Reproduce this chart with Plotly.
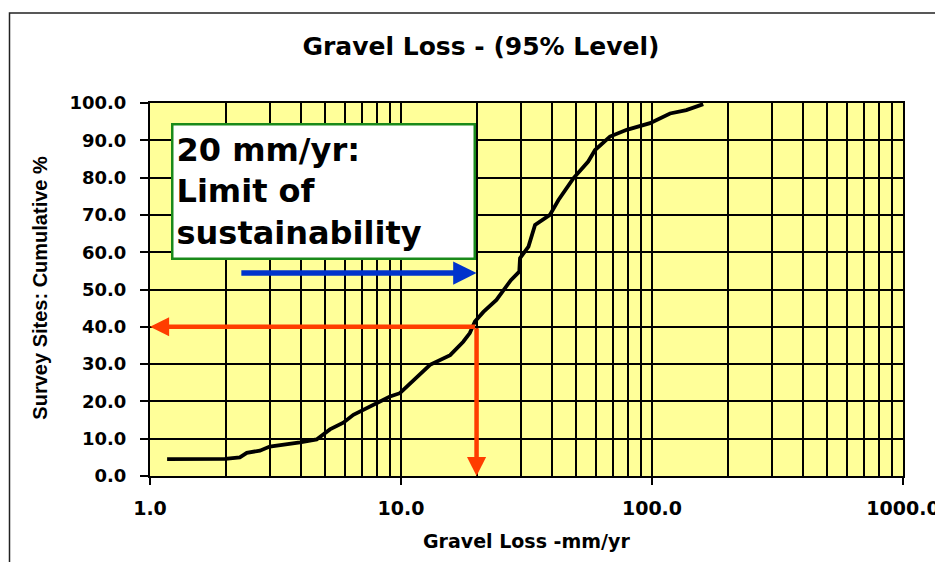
import numpy as np
import plotly.graph_objects as go

# ---------------- data ----------------
gravel_loss = [1.17, 1.99, 2.28, 2.43, 2.74, 3.0, 3.96, 4.61, 5.21, 5.89, 6.46, 7.08,
               8.0, 9.04, 9.9, 10.86, 13.05, 15.7, 17.7, 18.8, 19.7, 21.3, 24.0, 27.4,
               29.6, 29.8, 32.2, 34.2, 39.2, 42.4, 48.6, 55.7, 59.3, 68.0, 79.3, 98.2,
               118.0, 137.0, 160.0]
cumulative_pct = [4.5, 4.6, 5.0, 6.2, 6.8, 7.9, 9.0, 9.8, 12.5, 14.3, 16.4, 17.7,
                  19.7, 21.3, 22.2, 24.8, 29.8, 32.4, 36.0, 38.3, 41.4, 44.0, 47.2, 52.5,
                  54.8, 58.4, 61.5, 67.3, 70.0, 74.0, 79.8, 84.3, 87.4, 91.0, 92.8, 94.6,
                  97.2, 98.1, 99.7]

x_tick_vals = [1, 10, 100, 1000]
x_tick_text = ["1.0", "10.0", "100.0", "1000.0"]
y_tick_vals = [0, 10, 20, 30, 40, 50, 60, 70, 80, 90, 100]
y_tick_text = ["0.0", "10.0", "20.0", "30.0", "40.0", "50.0", "60.0", "70.0", "80.0", "90.0", "100.0"]
x_minor_vals = [m * d for d in (1, 10, 100) for m in range(2, 10)]

limit_x = 20.0          # mm/yr
limit_y = 40.0          # % of sites
axis_min_x = 1.0
axis_min_y = 0.0
blue_arrow_start_x = 2.28
blue_arrow_y = 54.4

title_text = "Gravel Loss - (95% Level)"
x_title = "Gravel Loss -mm/yr"
y_title = "Survey Sites: Cumulative %"
box_text = "20 mm/yr:<br>Limit of<br>sustainability"

# ---------------- figure ----------------
BOLD = "DejaVu Sans"
RED = "#FF3D00"
BLUE = "#0033CC"

fig = go.Figure()
fig.add_trace(go.Scatter(
    x=gravel_loss, y=cumulative_pct, mode="lines",
    line=dict(color="black", width=3.8), showlegend=False, hoverinfo="x+y"))

# page body has an 8px margin, so offsets are compensated here
fig.update_layout(
    width=943, height=562,
    margin=dict(l=142, r=48, t=95, b=94),
    paper_bgcolor="white",
    plot_bgcolor="#FFFF99",
    showlegend=False,
    title=dict(text=title_text, x=(481 - 8) / 943, xref="container", xanchor="center",
               y=1 - (46 - 8) / 562, yref="container", yanchor="middle",
               font=dict(family=BOLD, size=25, weight="bold", color="black")),
)

fig.update_xaxes(
    type="log", range=[0, 3],
    tickvals=x_tick_vals, ticktext=x_tick_text,
    ticks="outside", ticklen=7, tickwidth=1.5, tickcolor="black",
    ticklabelstandoff=7,
    tickfont=dict(family=BOLD, size=19, weight="bold", color="black"),
    showgrid=True, gridcolor="black", gridwidth=2,
    minor=dict(tickvals=x_minor_vals, showgrid=True, gridcolor="black", gridwidth=2, ticks=""),
    showline=True, linecolor="black", linewidth=2, mirror=True,
    zeroline=False,
)
fig.update_yaxes(
    range=[0, 100],
    tickvals=y_tick_vals, ticktext=y_tick_text,
    ticks="outside", ticklen=8, tickwidth=1.5, tickcolor="black",
    ticklabelstandoff=10,
    tickfont=dict(family=BOLD, size=18, weight="bold", color="black"),
    showgrid=True, gridcolor="black", gridwidth=2,
    showline=True, linecolor="black", linewidth=2, mirror=True,
    zeroline=False,
)

# outer chart frame
fig.add_shape(type="rect", xref="paper", yref="paper",
              x0=(9.5 - 150) / 753, x1=1.2, y0=-0.5, y1=(476 - 13) / 373,
              line=dict(color="#222222", width=1.5), layer="below")

# axis titles
fig.add_annotation(text=x_title, xref="paper", yref="paper", x=0.5, y=(476 - 541) / 373,
                   xanchor="center", yanchor="middle", showarrow=False,
                   font=dict(family=BOLD, size=19, weight="bold", color="black"))
fig.add_annotation(text=y_title, xref="paper", yref="paper", x=(40 - 150) / 753, y=0.505,
                   xanchor="center", yanchor="middle", showarrow=False, textangle=-90,
                   font=dict(family="Liberation Sans", size=20, weight="bold", color="black"))

# text box
fig.add_annotation(text=box_text, xref="paper", yref="paper",
                   x=(171 - 150) / 753, y=(476 - 123) / 373, xanchor="left", yanchor="top",
                   showarrow=False, align="left", valign="middle",
                   width=294, height=126, borderpad=3,
                   bgcolor="white", bordercolor="#1A8A1A", borderwidth=2.5,
                   font=dict(family=BOLD, size=32, weight="bold", color="black"))

# red arrows (log axis annotations use log10 coordinates)
lx = float(np.log10(limit_x))
fig.add_annotation(x=float(np.log10(axis_min_x)), y=limit_y, ax=lx, ay=limit_y,
                   xref="x", yref="y", axref="x", ayref="y", text="",
                   showarrow=True, arrowhead=2, arrowsize=0.85, arrowwidth=4.5, arrowcolor=RED)
fig.add_annotation(x=lx, y=axis_min_y, ax=lx, ay=limit_y,
                   xref="x", yref="y", axref="x", ayref="y", text="",
                   showarrow=True, arrowhead=2, arrowsize=0.85, arrowwidth=4.5, arrowcolor=RED)
# blue arrow
fig.add_annotation(x=lx, y=blue_arrow_y, ax=float(np.log10(blue_arrow_start_x)), ay=blue_arrow_y,
                   xref="x", yref="y", axref="x", ayref="y", text="",
                   showarrow=True, arrowhead=2, arrowsize=0.85, arrowwidth=5.5, arrowcolor=BLUE)

fig.write_html("out.html")
